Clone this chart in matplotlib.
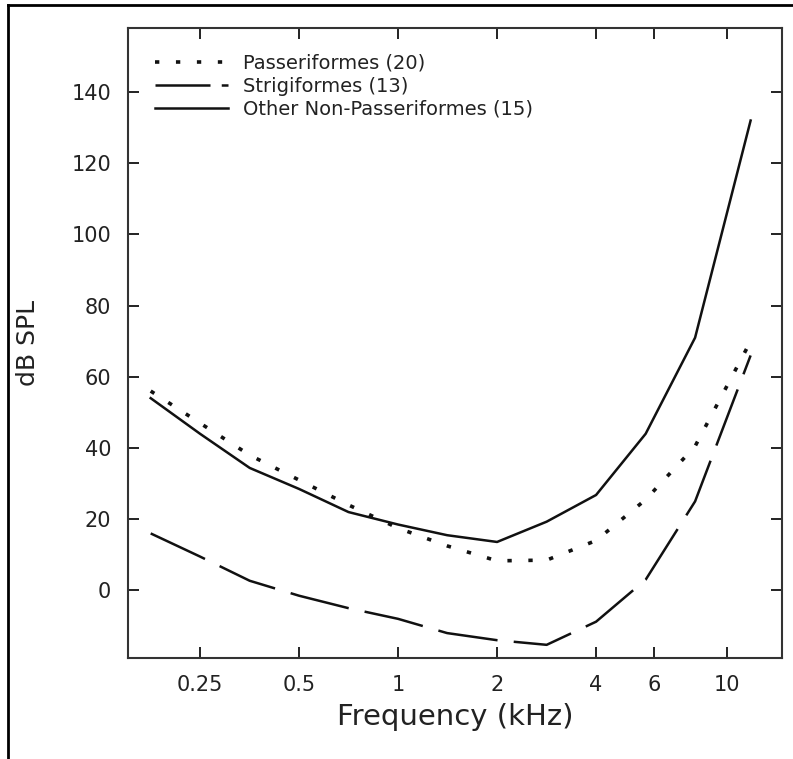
import matplotlib
matplotlib.use("Agg")
import matplotlib.pyplot as plt
from matplotlib.lines import Line2D

freq = [0.177, 0.25, 0.354, 0.5, 0.707, 1.0, 1.41, 2.0, 2.83, 4.0, 5.66, 8.0, 11.8]
passeriformes = [56, 47, 38, 31, 24, 17.5, 12.5, 8.3, 8.5, 14, 25.5, 40.5, 70]
strigiformes = [16, 9.5, 2.7, -1.5, -5, -8, -12, -14, -15.3, -8.8, 3, 25, 66]
other_non_pass = [54, 44, 34.4, 28.5, 22, 18.5, 15.5, 13.6, 19.3, 26.8, 44, 71, 132]
series_labels = ['Passeriformes (20)', 'Strigiformes (13)', 'Other Non-Passeriformes (15)']

xticks = [0.25, 0.5, 1, 2, 4, 6, 10]
xtick_labels = ["0.25", "0.5", "1", "2", "4", "6", "10"]
yticks = [0, 20, 40, 60, 80, 100, 120, 140]

plt.rcParams['font.family'] = ['DejaVu Sans']

fig = plt.figure(figsize=(7.93, 7.59), dpi=100)
ax = fig.add_axes([128/793, 101/759, 654/793, 630/759])

c = '#111111'
dot_style = (0, (1.2, 4.6))
ax.plot(freq, passeriformes, color=c, lw=2.6, linestyle=dot_style,
        dash_capstyle='butt', label=series_labels[0])
ax.plot(freq, strigiformes, color=c, lw=1.8, linestyle=(0, (24, 6.5)),
        label=series_labels[1])
ax.plot(freq, other_non_pass, color=c, lw=1.8, linestyle='-',
        label=series_labels[2])

ax.set_xscale('log')
ax.set_xlim(0.151, 14.7)
ax.set_ylim(-19, 158)
ax.set_xticks(xticks)
ax.set_xticklabels(xtick_labels)
ax.minorticks_off()
ax.set_yticks(yticks)
ax.tick_params(direction='in', length=8, width=1.4, top=True, right=True,
               labelsize=15, colors='#222222', pad=12)
for s in ax.spines.values():
    s.set_linewidth(1.5)
    s.set_color('#333333')

ax.set_xlabel('Frequency (kHz)', fontsize=21, color='#222222', labelpad=6)
ax.set_ylabel('dB SPL', fontsize=18, color='#222222', labelpad=23)

handles = [
    Line2D([], [], color=c, lw=2.6, linestyle=dot_style, dash_capstyle='butt'),
    Line2D([], [], color=c, lw=1.8, linestyle=(0, (22, 4.5))),
    Line2D([], [], color=c, lw=1.8, linestyle='-'),
]
leg = ax.legend(handles, series_labels, loc='upper left',
                bbox_to_anchor=(0.035, 0.965), frameon=False,
                fontsize=14, handlelength=3.75, handletextpad=0.8,
                labelspacing=0.2, borderaxespad=0, borderpad=0.2)
for t in leg.get_texts():
    t.set_color('#222222')

# figure border (left and top)
fig.add_artist(Line2D([8/793, 8/793], [0, 1 - 5/759], transform=fig.transFigure,
                      color='black', lw=2))
fig.add_artist(Line2D([8/793, 1], [1 - 5/759, 1 - 5/759], transform=fig.transFigure,
                      color='black', lw=2))

fig.savefig('out.png', dpi=100)
